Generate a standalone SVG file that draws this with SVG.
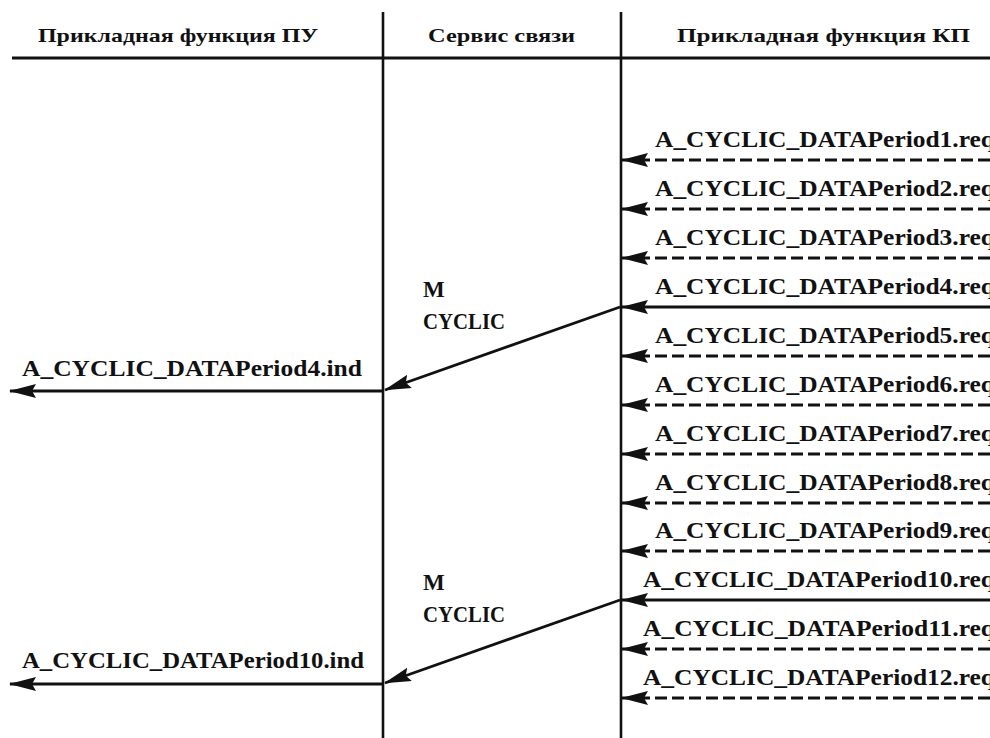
<svg xmlns="http://www.w3.org/2000/svg" width="990" height="738" viewBox="0 0 990 738">
<defs>
<style>
.bg{fill:#fff}
.ln{stroke:#111;stroke-width:2.6;fill:none}
.hdr{font-family:"Liberation Serif","Times New Roman",serif;font-weight:bold;font-size:19px;fill:#111}
.lbl{font-family:"Liberation Serif","Times New Roman",serif;font-weight:bold;font-size:23px;fill:#111}
.arr{stroke:#111;stroke-width:2.8;fill:none;marker-end:url(#ah)}
.dash{stroke-dasharray:12 5}
</style>
<marker id="ah" markerUnits="userSpaceOnUse" markerWidth="28" markerHeight="16" viewBox="0 -8 28 16" refX="26" refY="0" orient="auto">
<path d="M0,-7 L27,0 L0,7 L4,0 z" fill="#111"/>
</marker>
</defs>
<rect class="bg" x="0" y="0" width="990" height="738"/>
<g id="header">
<text class="hdr" x="38" y="42" textLength="280" lengthAdjust="spacingAndGlyphs">Прикладная функция ПУ</text>
<text class="hdr" x="428" y="42" textLength="147" lengthAdjust="spacingAndGlyphs">Сервис связи</text>
<text class="hdr" x="677" y="42" textLength="293" lengthAdjust="spacingAndGlyphs">Прикладная функция КП</text>
<line class="ln" x1="12" y1="58" x2="990" y2="58" style="stroke-width:3.2"/>
</g>
<g id="lifelines">
<line class="ln" x1="383" y1="12" x2="383" y2="738"/>
<line class="ln" x1="621" y1="12" x2="621" y2="738"/>
</g>
<g id="labels">
<text class="lbl" x="655" y="147" textLength="340" lengthAdjust="spacingAndGlyphs">A_CYCLIC_DATAPeriod1.req</text>
<text class="lbl" x="655" y="196" textLength="340" lengthAdjust="spacingAndGlyphs">A_CYCLIC_DATAPeriod2.req</text>
<text class="lbl" x="655" y="245" textLength="340" lengthAdjust="spacingAndGlyphs">A_CYCLIC_DATAPeriod3.req</text>
<text class="lbl" x="655" y="294" textLength="340" lengthAdjust="spacingAndGlyphs">A_CYCLIC_DATAPeriod4.req</text>
<text class="lbl" x="655" y="343" textLength="340" lengthAdjust="spacingAndGlyphs">A_CYCLIC_DATAPeriod5.req</text>
<text class="lbl" x="655" y="392" textLength="340" lengthAdjust="spacingAndGlyphs">A_CYCLIC_DATAPeriod6.req</text>
<text class="lbl" x="655" y="441" textLength="340" lengthAdjust="spacingAndGlyphs">A_CYCLIC_DATAPeriod7.req</text>
<text class="lbl" x="655" y="490" textLength="340" lengthAdjust="spacingAndGlyphs">A_CYCLIC_DATAPeriod8.req</text>
<text class="lbl" x="655" y="538" textLength="340" lengthAdjust="spacingAndGlyphs">A_CYCLIC_DATAPeriod9.req</text>
<text class="lbl" x="643" y="587" textLength="352" lengthAdjust="spacingAndGlyphs">A_CYCLIC_DATAPeriod10.req</text>
<text class="lbl" x="643" y="636" textLength="352" lengthAdjust="spacingAndGlyphs">A_CYCLIC_DATAPeriod11.req</text>
<text class="lbl" x="643" y="685" textLength="352" lengthAdjust="spacingAndGlyphs">A_CYCLIC_DATAPeriod12.req</text>
<text class="lbl" x="423" y="297">M</text>
<text class="lbl" x="423" y="329" textLength="82" lengthAdjust="spacingAndGlyphs">CYCLIC</text>
<text class="lbl" x="423" y="590">M</text>
<text class="lbl" x="423" y="622" textLength="82" lengthAdjust="spacingAndGlyphs">CYCLIC</text>
<text class="lbl" x="22" y="376" textLength="340" lengthAdjust="spacingAndGlyphs">A_CYCLIC_DATAPeriod4.ind</text>
<text class="lbl" x="22" y="668" textLength="342" lengthAdjust="spacingAndGlyphs">A_CYCLIC_DATAPeriod10.ind</text>
</g>
<g id="connectors">
<line class="arr dash" x1="990" y1="160" x2="622" y2="160"/>
<line class="arr dash" x1="990" y1="209" x2="622" y2="209"/>
<line class="arr dash" x1="990" y1="258" x2="622" y2="258"/>
<line class="arr" x1="990" y1="307" x2="622" y2="307"/>
<line class="arr dash" x1="990" y1="356" x2="622" y2="356"/>
<line class="arr dash" x1="990" y1="405" x2="622" y2="405"/>
<line class="arr dash" x1="990" y1="454" x2="622" y2="454"/>
<line class="arr dash" x1="990" y1="503" x2="622" y2="503"/>
<line class="arr dash" x1="990" y1="551" x2="622" y2="551"/>
<line class="arr" x1="990" y1="600" x2="622" y2="600"/>
<line class="arr dash" x1="990" y1="649" x2="622" y2="649"/>
<line class="arr dash" x1="990" y1="698" x2="622" y2="698"/>
<line class="arr" x1="620" y1="307" x2="385" y2="390"/>
<line class="arr" x1="620" y1="600" x2="385" y2="683"/>
<line class="arr" x1="383" y1="391" x2="10" y2="391"/>
<line class="arr" x1="383" y1="684" x2="10" y2="684"/>
</g>
</svg>
